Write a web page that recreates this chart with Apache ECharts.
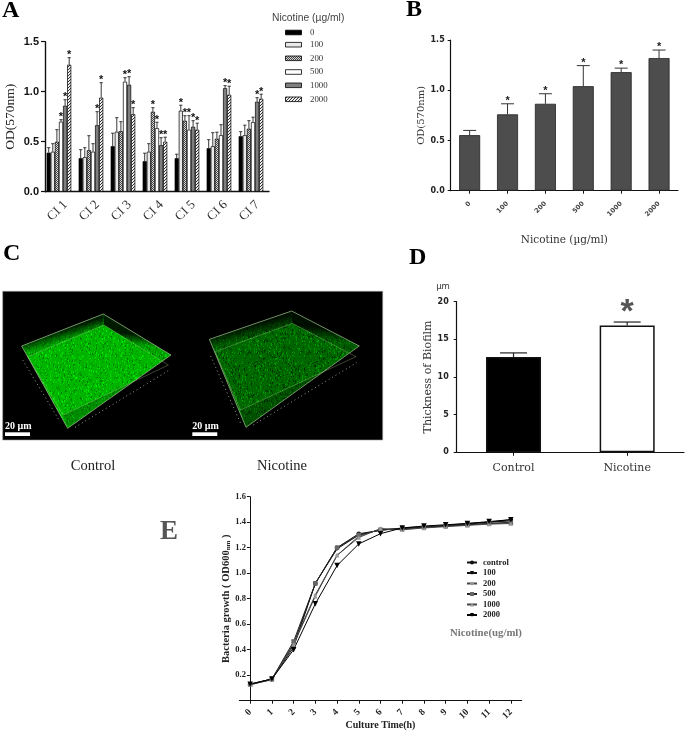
<!DOCTYPE html>
<html><head><meta charset="utf-8">
<style>html,body{margin:0;padding:0;background:#fff}#c{width:685px;height:732px}</style>
<script src="https://cdn.jsdelivr.net/npm/echarts@6/dist/echarts.min.js"></script>
</head><body><div id="c"></div>
<script>
// ---------- Panel A ----------
const aCategories = ['CI 1','CI 2','CI 3','CI 4','CI 5','CI 6','CI 7'];
const aDoses = ['0','100','200','500','1000','2000'];
const aCI1 = [0.39,0.40,0.50,0.70,0.86,1.27];
const aCI2 = [0.335,0.345,0.415,0.40,0.665,0.94];
const aCI3 = [0.455,0.60,0.605,1.10,1.07,0.775];
const aCI4 = [0.305,0.40,0.80,0.635,0.465,0.50];
const aCI5 = [0.335,0.81,0.71,0.62,0.65,0.62];
const aCI6 = [0.435,0.455,0.53,0.565,1.035,0.97];
const aCI7 = [0.555,0.565,0.63,0.695,0.90,0.93];
const aTop1 = [0.44,0.48,0.62,0.72,0.92,1.34];
const aTop2 = [0.42,0.44,0.56,0.48,0.80,1.09];
const aTop3 = [0.585,0.74,0.70,1.14,1.15,0.84];
const aTop4 = [0.385,0.48,0.84,0.695,0.54,0.545];
const aTop5 = [0.375,0.865,0.76,0.76,0.71,0.685];
const aTop6 = [0.52,0.59,0.595,0.67,1.06,1.055];
const aTop7 = [0.60,0.665,0.71,0.745,0.94,0.975];
const aStars1 = [0,0,0,1,1,1];
const aStars2 = [0,0,0,0,1,1];
const aStars3 = [0,0,0,1,1,1];
const aStars4 = [0,0,1,1,1,1];
const aStars5 = [0,1,1,1,1,1];
const aStars6 = [0,0,0,0,1,1];
const aStars7 = [0,0,0,0,1,1];
// ---------- Panel B ----------
const bCategories = ['0','100','200','500','1000','2000'];
const bValues = [0.553,0.76,0.865,1.04,1.18,1.32];
const bTops = [0.60,0.865,0.965,1.245,1.22,1.40];
// ---------- Panel D ----------
const dCategories = ['Control','Nicotine'];
const dValues = [12.65,16.85];
const dTops = [13.2,17.3];
// ---------- Panel E ----------
const eHours = ['0','1','2','3','4','5','6','7','8','9','10','11','12'];
const eControl = [0.13,0.17,0.42,0.92,1.20,1.31,1.335,1.355,1.365,1.375,1.39,1.40,1.42];
const e100 = [0.13,0.17,0.44,0.92,1.19,1.30,1.34,1.35,1.36,1.37,1.385,1.40,1.41];
const e200 = [0.13,0.165,0.45,0.83,1.14,1.29,1.345,1.345,1.36,1.37,1.38,1.39,1.40];
const e500 = [0.125,0.17,0.465,0.92,1.20,1.30,1.34,1.35,1.36,1.37,1.38,1.39,1.395];
const e1000 = [0.125,0.165,0.44,0.82,1.14,1.28,1.35,1.34,1.355,1.365,1.375,1.385,1.39];
const e2000 = [0.13,0.17,0.40,0.76,1.06,1.23,1.31,1.355,1.37,1.38,1.39,1.405,1.42];

const aRows = [aCI1,aCI2,aCI3,aCI4,aCI5,aCI6,aCI7];
const aTopRows = [aTop1,aTop2,aTop3,aTop4,aTop5,aTop6,aTop7];
const aStarRows = [aStars1,aStars2,aStars3,aStars4,aStars5,aStars6,aStars7];

const SERIF='"Liberation Serif","Times New Roman",serif';
const SANS='"Liberation Sans",Arial,sans-serif';
const DJV='"DejaVu Sans",sans-serif';
const DJS='"DejaVu Serif",serif';

function tile(w,h,draw){const c=document.createElement('canvas');c.width=w;c.height=h;draw(c.getContext('2d'));return c;}
function pattern(c){return {image:c,repeat:'repeat'};}
const checker=tile(2,2,g=>{g.fillStyle='#d8d8d8';g.fillRect(0,0,2,2);g.fillStyle='#444';g.fillRect(0,0,1,1);g.fillRect(1,1,1,1);});
const stripes=tile(3,3,g=>{g.fillStyle='#eee';g.fillRect(0,0,3,3);g.fillStyle='#333';g.fillRect(2,0,1,1);g.fillRect(1,1,1,1);g.fillRect(0,2,1,1);});
const aFills=['#000','#e8e8e8',pattern(checker),'#fff','#7f7f7f',pattern(stripes)];

// deterministic speckle texture for the confocal stacks
function speckle(seed,lo,hi){
  let s=seed;const next=()=>{s=(s*1103515245+12345)&0x7fffffff;return s/0x7fffffff;};
  return tile(60,60,g=>{
    g.fillStyle=`rgb(0,${Math.round((lo+hi)/2)},0)`;g.fillRect(0,0,60,60);
    for(let i=0;i<1100;i++){
      const v=Math.round(lo+(hi-lo)*next());
      g.fillStyle=`rgb(0,${v},0)`;
      g.fillRect(Math.floor(next()*60),Math.floor(next()*60),1,1+Math.floor(next()*2));
    }
  });
}
const conBright=speckle(7,120,240), conDim=speckle(11,45,160);

const z=(zx,zy)=>[zx/3,240+zy/3];
function wallFill(a,b,c,d){ // dark along the outer edge a-b, fading toward the inner edge d-c
  const m1=z((a[0]+b[0])/2,(a[1]+b[1])/2), m2=z((c[0]+d[0])/2,(c[1]+d[1])/2);
  return {type:'linear',global:true,x:m1[0],y:m1[1],x2:m2[0],y2:m2[1],colorStops:[{offset:0,color:'rgba(0,0,0,0.85)'},{offset:1,color:'rgba(0,0,0,0.1)'}]};
}
function stack(o,tex){
  const P=a=>a.map(p=>z(p[0],p[1]));
  const rim='rgba(190,215,170,0.75)', inner='rgba(190,225,160,0.5)';
  const [o0,o1,o2,o3]=o.outer,[i0,i1,i2,i3]=o.inner;
  return [
    {type:'polygon',shape:{points:P(o.outer)},style:{fill:pattern(tex)},z:2},
    {type:'polygon',shape:{points:P([o0,o1,i1,i0])},style:{fill:wallFill(o0,o1,i1,i0)},z:3},
    {type:'polygon',shape:{points:P([o1,o2,i2,i1])},style:{fill:wallFill(o1,o2,i2,i1)},z:3},
    {type:'polygon',shape:{points:P([i3,i2,o2,o3])},style:{fill:'rgba(0,0,0,0.22)'},z:3},
    {type:'polygon',shape:{points:P(o.outer)},style:{fill:'none',stroke:rim,lineWidth:0.8},z:4},
    {type:'polyline',shape:{points:P([i0,i1,i2,i3,i0])},style:{fill:'none',stroke:inner,lineWidth:0.6},z:4},
    {type:'polyline',shape:{points:P(o.ticksA)},style:{fill:'none',stroke:'#999',lineWidth:1,lineDash:[1,3]},z:4},
    {type:'polyline',shape:{points:P(o.ticksB)},style:{fill:'none',stroke:'#999',lineWidth:1,lineDash:[1,3]},z:4},
    {type:'rect',shape:{x:o.bar,y:432.3,width:25,height:3.7},style:{fill:'#fff'},z:5},
    {type:'text',x:o.bar,y:426.5,style:{text:'20 µm',fill:'#fff',font:`bold 10px ${SERIF}`,verticalAlign:'middle'},z:5},
  ];
}

function letter(t,x,y,size,fill){return {type:'text',x,y,style:{text:t,fill:fill||'#000',font:`bold ${size}px ${SERIF}`,verticalAlign:'middle'},z:10};}
const graphic=[
  letter('A',2,11,24),letter('B',406,10,24),letter('C',3,254,24),letter('D',409,258,24),letter('E',160,532,27,'#555'),
  {type:'text',x:272,y:18,style:{text:'Nicotine (µg/ml)',fill:'#444',font:`10.3px ${SANS}`,verticalAlign:'middle'}},
  {type:'rect',shape:{x:2.7,y:291.3,width:380,height:148.7},style:{fill:'#000',stroke:'#999',lineWidth:0.6},z:1},
  ...stack({outer:[[65,318],[310,222],[513,345],[203,565]],inner:[[83,350],[312,255],[505,375],[190,525]],ticksA:[[68,360],[180,545]],ticksB:[[225,562],[505,392]],bar:5},conBright),
  ...stack({outer:[[628,298],[875,213],[1078,318],[738,562]],inner:[[645,335],[877,250],[1068,350],[722,510]],ticksA:[[632,348],[722,550]],ticksB:[[760,555],[1070,368]],bar:192.3},conDim),
  {type:'text',x:93,y:466.5,style:{text:'Control',fill:'#222',font:`14.5px ${SERIF}`,align:'center',verticalAlign:'middle'}},
  {type:'text',x:282,y:466.5,style:{text:'Nicotine',fill:'#222',font:`14.5px ${SERIF}`,align:'center',verticalAlign:'middle'}},
  {type:'text',x:443,y:286.5,style:{text:'µm',fill:'#333',font:`8.5px ${DJV}`,align:'center',verticalAlign:'middle'}},
  {type:'text',x:450,y:633,style:{text:'Nicotine(ug/ml)',fill:'#777',font:`bold 10.8px ${SERIF}`,verticalAlign:'middle'}},
];
const swatchY=[32.5,44.7,58.3,72,85.3,99.3];
aDoses.forEach((d,i)=>{
  graphic.push({type:'rect',shape:{x:285.5,y:swatchY[i]-2.3,width:16,height:4.6},style:{fill:aFills[i],stroke:'#000',lineWidth:0.8}});
  graphic.push({type:'text',x:310,y:swatchY[i],style:{text:d,fill:'#333',font:`8.8px ${SERIF}`,verticalAlign:'middle'}});
});

const W=685;const H=732;
function grid(l,t,r,b){return {left:l,top:t,width:r-l,height:b-t,containLabel:false,outerBoundsMode:'none'};}
const axisLine=(w,c)=>({show:true,onZero:false,lineStyle:{color:c||'#111',width:w}});

// error bars (and optional stars) on a category axis
function errSeries(xi,yi,data,opt){
  return {type:'custom',xAxisIndex:xi,yAxisIndex:yi,data,clip:false,silent:true,z:5,
    encode:{x:0,y:1},
    renderItem(params,api){
      const cat=api.value(0),top=api.value(1),base=api.value(2),off=api.value(3),star=api.value(4);
      const a=api.coord([cat,top]),b=api.coord([cat,base]);
      const x=a[0]+off;
      const ls={stroke:opt.color,lineWidth:opt.width,fill:'none'};
      const ch=[
        {type:'line',shape:{x1:x,y1:a[1],x2:x,y2:b[1]},style:ls},
        {type:'line',shape:{x1:x-opt.cap,y1:a[1],x2:x+opt.cap,y2:a[1]},style:ls},
      ];
      if(star){ch.push({type:'text',style:{text:'*',x,y:a[1]-opt.starGap,fill:opt.starColor,font:opt.starFont,align:'center',verticalAlign:'middle'}});}
      return {type:'group',children:ch};
    }};
}

const barW=4.1;
const series=[];
aDoses.forEach((d,i)=>{
  series.push({type:'bar',name:'A '+d,xAxisIndex:0,yAxisIndex:0,barWidth:barW,barGap:'0%',
    data:aRows.map(r=>r[i]),itemStyle:{color:aFills[i],borderColor:'#000',borderWidth:0.7},silent:true});
});
series.push({type:'bar',name:'A spacer',xAxisIndex:0,yAxisIndex:0,barWidth:barW,barGap:'0%',data:[],silent:true});
const aErr=[];
aRows.forEach((r,c)=>r.forEach((v,i)=>aErr.push([c,aTopRows[c][i],v,(i-3)*barW,aStarRows[c][i]])));
series.push(errSeries(0,0,aErr,{color:'#222',width:0.9,cap:1.6,starGap:2.5,starColor:'#111',starFont:`bold 11px ${SANS}`}));

series.push({type:'bar',name:'B',xAxisIndex:1,yAxisIndex:1,barWidth:21,data:bValues,itemStyle:{color:'#4d4d4d',borderColor:'#222',borderWidth:0.8},silent:true});
series.push(errSeries(1,1,bValues.map((v,i)=>[i,bTops[i],v,0,i>0?1:0]),{color:'#333',width:1,cap:6.5,starGap:3,starColor:'#222',starFont:`bold 11px ${SANS}`}));

series.push({type:'bar',name:'D',xAxisIndex:2,yAxisIndex:2,barWidth:55,data:[{value:dValues[0],itemStyle:{color:'#000'}},{value:dValues[1],itemStyle:{color:'#fff'}}],itemStyle:{borderColor:'#111',borderWidth:1.5},silent:true});
series.push(errSeries(2,2,dValues.map((v,i)=>[i,dTops[i],v,0,i]),{color:'#222',width:1.2,cap:13.5,starGap:9,starColor:'#555',starFont:`bold 34px ${SANS}`}));

const triDown='path://M0 0L10 0L5 9Z';
const eDefs=[
  ['control',eControl,'circle',4.5,'#111','#111'],
  ['100',e100,triDown,4,'#111','#111'],
  ['200',e200,'diamond',4,'#444','#999'],
  ['500',e500,'rect',4.5,'#222','#666'],
  ['1000',e1000,'triangle',4.5,'#444','#999'],
  ['2000',e2000,triDown,5.5,'#000','#000'],
];
eDefs.forEach(d=>series.push({type:'line',name:d[0],xAxisIndex:3,yAxisIndex:3,data:d[1],symbol:d[2],symbolSize:d[3],showSymbol:true,
  lineStyle:{color:d[4],width:1},itemStyle:{color:d[5]},silent:true}));

const tickFont=(f,s,b,c)=>({fontFamily:f,fontSize:s,fontWeight:b||'normal',color:c||'#222'});

const option={
  animation:false,backgroundColor:'#fff',
  graphic:{elements:graphic},
  grid:[grid(45,41.7,269,191.7),grid(450.7,40,678,190.7),grid(456.7,301.7,684,452.3),grid(239.3,496.7,521.7,700.7)],
  legend:{data:eDefs.map(d=>d[0]),left:466,top:558,orient:'vertical',itemWidth:10,itemHeight:5,itemGap:1.5,selectedMode:false,
    textStyle:{fontFamily:SERIF,fontWeight:'bold',fontSize:8.5,color:'#222',padding:[0,0,0,1]},padding:0},
  xAxis:[
    {gridIndex:0,type:'category',data:aCategories,axisLine:axisLine(1.4),axisTick:{show:false},
      axisLabel:{...tickFont(SERIF,13,'normal','#333'),rotate:45,margin:15.5,interval:0,align:'center',verticalAlign:'middle',padding:[0,10,0,0]}},
    {gridIndex:1,type:'category',data:bCategories,axisLine:axisLine(1.2),axisTick:{show:true,alignWithLabel:true,length:3,lineStyle:{color:'#111',width:1}},
      axisLabel:{...tickFont(DJV,6.5,'bold','#444'),rotate:45,margin:12,interval:0},
      name:'Nicotine (µg/ml)',nameLocation:'middle',nameGap:44,nameMoveOverlap:false,nameTextStyle:{fontFamily:DJS,fontSize:10.5,color:'#333'}},
    {gridIndex:2,type:'category',data:dCategories,axisLine:axisLine(1.2),axisTick:{show:true,alignWithLabel:true,length:3.5,lineStyle:{color:'#111',width:1}},
      axisLabel:{...tickFont(DJS,11,'normal','#333'),margin:10,interval:0}},
    {gridIndex:3,type:'category',data:eHours,axisLine:axisLine(1),axisTick:{show:true,alignWithLabel:true,length:3,lineStyle:{color:'#111',width:1}},
      axisLabel:{...tickFont(SERIF,9.5,'bold','#222'),rotate:45,margin:10,interval:0},
      name:'Culture Time(h)',nameLocation:'middle',nameGap:20,nameMoveOverlap:false,nameTextStyle:{fontFamily:SERIF,fontSize:10,fontWeight:'bold',color:'#222'}},
  ],
  yAxis:[
    {gridIndex:0,type:'value',min:0,max:1.5,interval:0.5,splitLine:{show:false},axisLine:axisLine(1.4),axisTick:{show:true,length:4,lineStyle:{color:'#111',width:1.2}},
      axisLabel:{...tickFont(SANS,11,'bold','#111'),margin:6,formatter:v=>v.toFixed(1)},
      name:'OD(570nm)',nameLocation:'middle',nameGap:28,nameMoveOverlap:false,nameTextStyle:{fontFamily:SERIF,fontSize:13.5,color:'#222'}},
    {gridIndex:1,type:'value',min:0,max:1.5,interval:0.5,splitLine:{show:false},axisLine:axisLine(1.2),axisTick:{show:true,length:3,lineStyle:{color:'#111',width:1}},
      axisLabel:{...tickFont(DJV,8,'bold','#222'),margin:6,formatter:v=>v.toFixed(1)},
      name:'OD(570nm)',nameLocation:'middle',nameGap:24,nameMoveOverlap:false,nameTextStyle:{fontFamily:DJS,fontSize:10,color:'#333'}},
    {gridIndex:2,type:'value',min:0,max:20,interval:5,splitLine:{show:false},axisLine:axisLine(1.2),axisTick:{show:true,length:3,lineStyle:{color:'#111',width:1}},
      axisLabel:{...tickFont(DJV,8,'bold','#222'),margin:8},
      name:'Thickness of Biofilm',nameLocation:'middle',nameGap:23,nameMoveOverlap:false,nameTextStyle:{fontFamily:DJS,fontSize:11,color:'#333'}},
    {gridIndex:3,type:'value',min:0,max:1.6,interval:0.2,offset:-10.6,splitLine:{show:false},axisLine:axisLine(1),axisTick:{show:true,length:3,lineStyle:{color:'#111',width:1}},
      axisLabel:{...tickFont(SERIF,8.5,'bold','#222'),margin:4,formatter:v=>v===0?'':v.toFixed(1)},
      name:'{a|Bacteria growth ( OD600}{b|nm}{a| )}',nameLocation:'middle',nameGap:18.5,nameMoveOverlap:false,
      nameTextStyle:{rich:{a:{fontFamily:SERIF,fontSize:10.5,fontWeight:'bold',color:'#222'},b:{fontFamily:SERIF,fontSize:7,fontWeight:'bold',color:'#222',verticalAlign:'bottom',padding:[4,0,0,0]}}}},
  ],
  series
};
const chart=echarts.init(document.getElementById('c'),null,{renderer:'canvas',width:W,height:H});
chart.setOption(option);
</script></body></html>
